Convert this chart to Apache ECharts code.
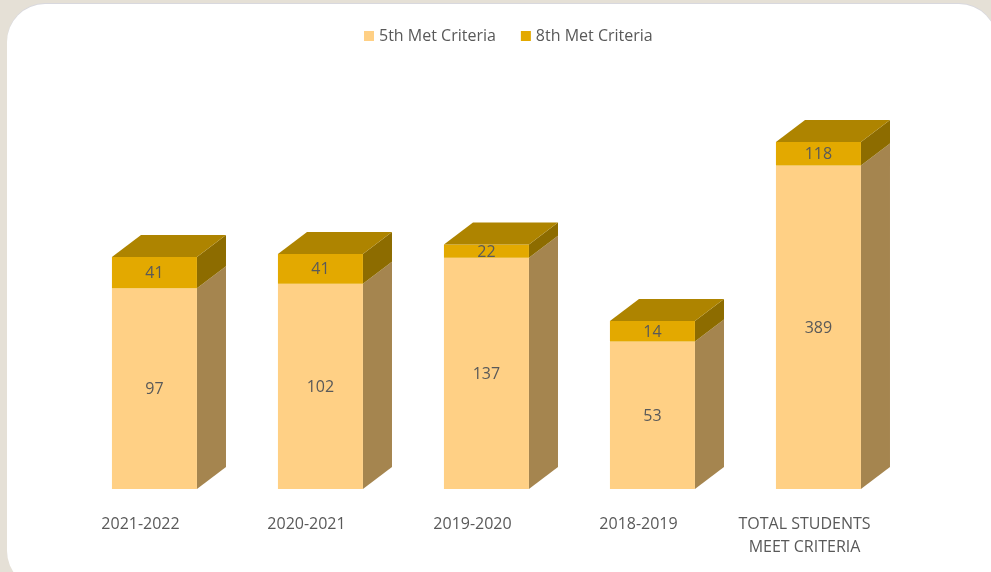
<!DOCTYPE html>
<html>
<head>
<meta charset="utf-8">
<script src="https://cdn.jsdelivr.net/npm/echarts@6/dist/echarts.min.js"></script>
<style>
html,body{margin:0;padding:0;background:#E5E0D6;overflow:hidden;}
#panel{position:absolute;left:7px;top:4px;width:990px;height:585px;background:#fff;border-radius:38px;box-shadow:0 -1px 0 #d8d8de;}
#chart{position:absolute;left:0;top:0;width:991px;height:572px;}
</style>
</head>
<body>
<div id="panel"></div>
<div id="chart"></div>
<script>
const categories = ['2021-2022', '2020-2021', '2019-2020', '2018-2019', 'TOTAL STUDENTS\nMEET CRITERIA'];
const fifthMet = [97, 102, 137, 53, 389];
const eighthMet = [41, 41, 22, 14, 118];
const seriesNames = ['5th Met Criteria', '8th Met Criteria'];

const COLORS = {
  fifthFront: '#FFD085', fifthSide: '#A5854F',
  eighthFront: '#E3A900', eighthTop: '#AE8400', eighthSide: '#8D6C00',
  text: '#595959'
};
const FONT = '"Open Sans", "Noto Sans", sans-serif';
const BAR_FRAC = 0.512, DX_FRAC = 0.175, DY_FRAC = 0.1325, SHIFT_FRAC = 0.084;

function makeRender(front, side, top, isTop) {
  return function (params, api) {
    const idx = api.value(0);
    const band = api.size([1, 0])[0];
    const w = band * BAR_FRAC, dx = band * DX_FRAC, dy = band * DY_FRAC;
    const cs = params.coordSys;
    const pTop = api.coord([idx, api.value(2)]);
    let yBase;
    if (api.value(1) > 0) yBase = api.coord([idx, api.value(1)])[1];
    else yBase = cs.y + cs.height;
    const yTop = pTop[1];
    const cx = pTop[0] + band * SHIFT_FRAC;
    const x0 = cx - w / 2, x1 = cx + w / 2;
    const children = [
      { type: 'polygon', shape: { points: [[x1, yBase], [x1 + dx, yBase - dy], [x1 + dx, yTop - dy], [x1, yTop]] }, style: { fill: side } },
      { type: 'rect', shape: { x: x0, y: yTop, width: w, height: yBase - yTop }, style: { fill: front } }
    ];
    if (isTop) {
      children.push({ type: 'polygon', shape: { points: [[x0, yTop], [x0 + dx, yTop - dy], [x1 + dx, yTop - dy], [x1, yTop]] }, style: { fill: top } });
    }
    children.push({
      type: 'text',
      style: { text: String(api.value(3)), x: cx, y: (yTop + yBase) / 2 + 1, align: 'center', verticalAlign: 'middle', fill: COLORS.text, font: '16px ' + FONT }
    });
    return { type: 'group', children: children };
  };
}

const fifthData = categories.map((c, i) => [i, 0, fifthMet[i], fifthMet[i]]);
const eighthData = categories.map((c, i) => [i, fifthMet[i], fifthMet[i] + eighthMet[i], eighthMet[i]]);

const chart = echarts.init(document.getElementById('chart'), null, { renderer: 'canvas' });
chart.setOption({
  backgroundColor: 'transparent',
  animation: false,
  textStyle: { fontFamily: FONT },
  legend: {
    data: seriesNames,
    top: 23, left: 359,
    icon: 'rect', itemWidth: 10, itemHeight: 10, itemGap: 25,
    textStyle: { color: COLORS.text, fontSize: 16, fontFamily: FONT }
  },
  grid: { left: 57.5, right: 103.5, top: 82, bottom: 83 },
  xAxis: {
    type: 'category', data: categories,
    axisLine: { show: false }, axisTick: { show: false },
    axisLabel: { color: COLORS.text, fontSize: 16, fontFamily: FONT, margin: 24, lineHeight: 23, interval: 0 }
  },
  yAxis: { type: 'log', min: 10, max: 1000, show: false, splitLine: { show: false } },
  series: [
    { name: seriesNames[0], type: 'custom', data: fifthData, encode: { x: 0, y: [1, 2] },
      itemStyle: { color: COLORS.fifthFront },
      renderItem: makeRender(COLORS.fifthFront, COLORS.fifthSide, null, false) },
    { name: seriesNames[1], type: 'custom', data: eighthData, encode: { x: 0, y: [1, 2] },
      itemStyle: { color: COLORS.eighthFront },
      renderItem: makeRender(COLORS.eighthFront, COLORS.eighthSide, COLORS.eighthTop, true) }
  ]
});
</script>
</body>
</html>
